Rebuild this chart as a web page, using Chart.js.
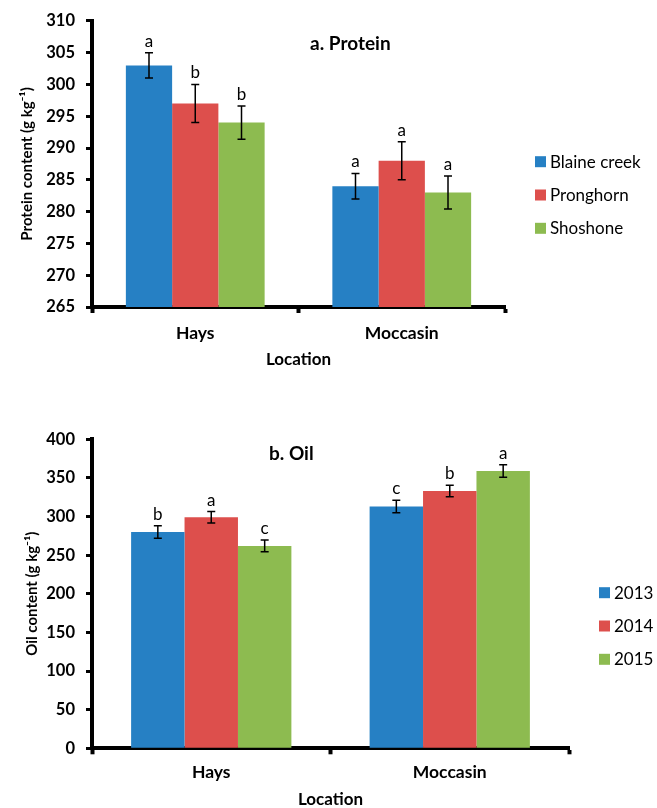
<!DOCTYPE html>
<html>
<head>
<meta charset="utf-8">
<script src="https://cdn.jsdelivr.net/npm/chart.js@4/dist/chart.umd.min.js"></script>
<style>
  html, body { margin: 0; padding: 0; background: #ffffff; overflow: hidden; }
  #wrap { position: relative; width: 657px; height: 808px; }
  canvas { position: absolute; left: 0; }
  #c1 { top: 0; }
  #c2 { top: 390px; }
</style>
</head>
<body>
<div id="wrap">
  <canvas id="c1" width="657" height="380"></canvas>
  <canvas id="c2" width="657" height="420"></canvas>
</div>
<script>
// ---- Data ----
const locations = ['Hays', 'Moccasin'];

const cultivars = ['Blaine creek', 'Pronghorn', 'Shoshone'];
const proteinBlaine = [303, 284];
const proteinPronghorn = [297, 288];
const proteinShoshone = [294, 283];
const proteinErrBlaine = [2, 2];
const proteinErrPronghorn = [3, 3];
const proteinErrShoshone = [2.6, 2.6];
const proteinLettersBlaine = ['a', 'a'];
const proteinLettersPronghorn = ['b', 'a'];
const proteinLettersShoshone = ['b', 'a'];
const proteinTickMin = 265, proteinTickMax = 310, proteinTickStep = 5;

const years = ['2013', '2014', '2015'];
const oil2013 = [280, 313];
const oil2014 = [299, 333];
const oil2015 = [262, 359];
const oilErr2013 = [8, 8];
const oilErr2014 = [7.5, 7.5];
const oilErr2015 = [7.5, 8];
const oilLetters2013 = ['b', 'c'];
const oilLetters2014 = ['a', 'b'];
const oilLetters2015 = ['c', 'a'];
const oilTickMin = 0, oilTickMax = 400, oilTickStep = 50;

// ---- Styles ----
const colors = ['#2680C4', '#DD4F4C', '#8DBB50'];
const FONT = 'Lato, "Liberation Sans", sans-serif';

function makeDatasets(labels, values, errs, letters) {
  return labels.map((lab, i) => ({
    label: lab,
    data: values[i],
    errors: errs[i],
    letters: letters[i],
    backgroundColor: colors[i],
    borderWidth: 0,
    categoryPercentage: 0.672,
    barPercentage: 1.0
  }));
}

const annotPlugin = {
  id: 'annot',
  afterDatasetsDraw(chart, args, opts) {
    const ctx = chart.ctx;
    const y = chart.scales.y;
    ctx.save();
    chart.data.datasets.forEach((ds, di) => {
      const meta = chart.getDatasetMeta(di);
      meta.data.forEach((bar, j) => {
        const v = ds.data[j], e = ds.errors[j];
        const yt = y.getPixelForValue(v + e);
        const yb = y.getPixelForValue(v - e);
        const x = bar.x;
        ctx.strokeStyle = '#000';
        ctx.lineWidth = 1.5;
        ctx.beginPath();
        ctx.moveTo(x, yt); ctx.lineTo(x, yb);
        ctx.moveTo(x - 4, yt); ctx.lineTo(x + 4, yt);
        ctx.moveTo(x - 4, yb); ctx.lineTo(x + 4, yb);
        ctx.stroke();
        ctx.fillStyle = '#000';
        ctx.font = '17px ' + FONT;
        ctx.textAlign = 'center';
        ctx.textBaseline = 'alphabetic';
        ctx.fillText(ds.letters[j], x, yt - 6);
      });
    });
    ctx.restore();
  },
  afterDraw(chart, args, opts) {
    const ctx = chart.ctx;
    ctx.save();
    // title
    ctx.fillStyle = '#000';
    ctx.font = 'bold 19px ' + FONT;
    ctx.textAlign = 'left';
    ctx.textBaseline = 'middle';
    ctx.fillText(opts.title, opts.titleX, opts.titleY);
    // legend
    ctx.font = '17px ' + FONT;
    chart.data.datasets.forEach((ds, i) => {
      const yy = opts.legendY + i * opts.legendGap;
      ctx.fillStyle = ds.backgroundColor;
      ctx.fillRect(opts.legendX, yy - 5.5, 11, 11);
      ctx.fillStyle = '#000';
      ctx.fillText(ds.label, opts.legendX + 15, yy + 0.5);
    });
    ctx.restore();
  }
};

function makeChart(canvasId, datasets, cfg) {
  const H = document.getElementById(canvasId).height;
  return new Chart(document.getElementById(canvasId), {
    type: 'bar',
    data: { labels: locations, datasets: datasets },
    plugins: [annotPlugin],
    options: {
      responsive: false,
      animation: false,
      devicePixelRatio: 1,
      layout: { padding: { left: 0, top: cfg.plotTop, right: 657 - cfg.plotRight, bottom: 0 } },
      plugins: {
        legend: { display: false },
        tooltip: { enabled: false },
        annot: cfg.annot
      },
      scales: {
        x: {
          afterFit(s) { s.height = H - cfg.plotBottom; },
          grid: { display: true, offset: true, drawOnChartArea: false, drawTicks: true, tickLength: 6, tickWidth: 4, tickColor: '#000' },
          border: { display: true, color: '#000', width: 4 },
          ticks: { color: '#000', font: { family: FONT, size: 17.5, weight: 'bold' }, padding: cfg.xTickPad },
          title: { display: true, text: 'Location', color: '#000', font: { family: FONT, size: 17, weight: 'bold' }, padding: { top: 0, bottom: cfg.xTitlePad } }
        },
        y: {
          min: cfg.min, max: cfg.max,
          afterFit(s) { s.width = 92; },
          grid: { display: true, drawOnChartArea: false, drawTicks: true, tickLength: 6, tickWidth: 3, tickColor: '#000' },
          border: { display: true, color: '#000', width: 4 },
          ticks: { stepSize: cfg.step, color: '#000', font: { family: FONT, size: 16.5, weight: 'bold' }, padding: 11 },
          title: { display: true, text: cfg.yTitle, color: '#000', font: { family: FONT, size: 15, weight: 'bold' }, padding: { top: cfg.yTitlePad, bottom: 0 } }
        }
      }
    }
  });
}

makeChart('c1',
  makeDatasets(cultivars,
    [proteinBlaine, proteinPronghorn, proteinShoshone],
    [proteinErrBlaine, proteinErrPronghorn, proteinErrShoshone],
    [proteinLettersBlaine, proteinLettersPronghorn, proteinLettersShoshone]),
  {
    min: proteinTickMin, max: proteinTickMax, step: proteinTickStep,
    plotTop: 17, plotBottom: 307, plotRight: 505,
    xTickPad: 9.5, xTitlePad: 9.8, yTitlePad: 18.5,
    yTitle: 'Protein content (g kg\u207B\u00B9)',
    annot: { title: 'a. Protein', titleX: 310, titleY: 44, legendX: 535, legendY: 161.7, legendGap: 33.3 }
  });

makeChart('c2',
  makeDatasets(years,
    [oil2013, oil2014, oil2015],
    [oilErr2013, oilErr2014, oilErr2015],
    [oilLetters2013, oilLetters2014, oilLetters2015]),
  {
    min: oilTickMin, max: oilTickMax, step: oilTickStep,
    plotTop: 49.3, plotBottom: 358.3, plotRight: 569,
    xTickPad: 7.9, xTitlePad: 0, yTitlePad: 23.5,
    yTitle: 'Oil content (g kg\u207B\u00B9)',
    annot: { title: 'b. Oil', titleX: 269, titleY: 64, legendX: 599, legendY: 202.7, legendGap: 33.3 }
  });
</script>
</body>
</html>
